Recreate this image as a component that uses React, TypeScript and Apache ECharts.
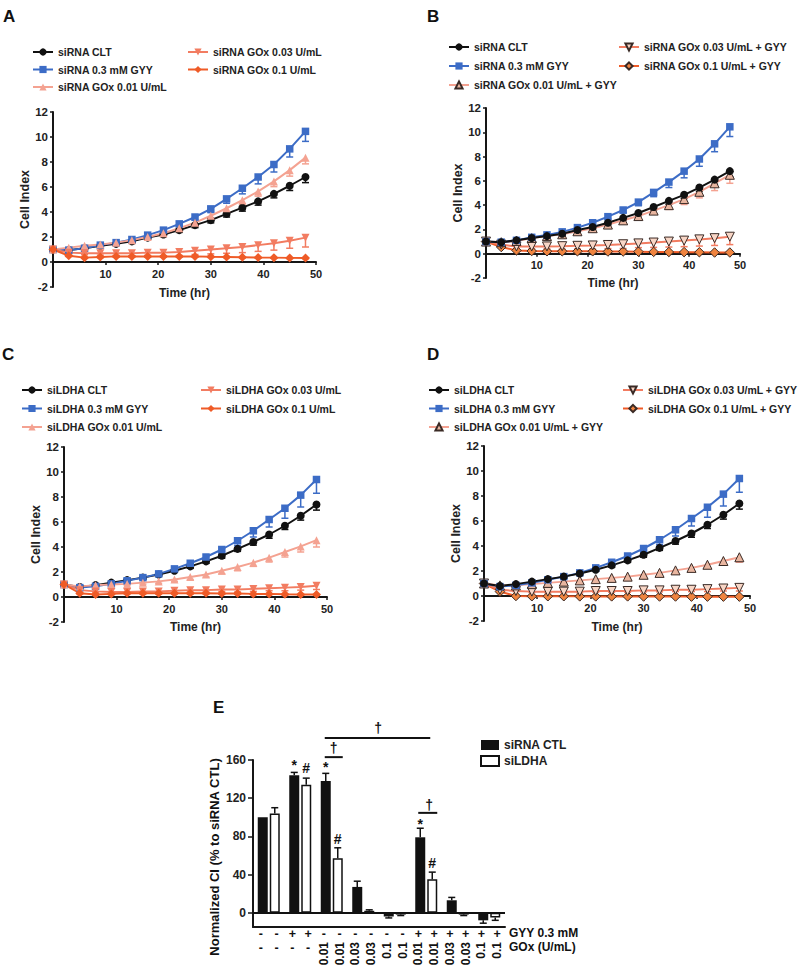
import React, { useEffect, useRef } from 'react';
import * as echarts from 'echarts';

const FONT = "'Liberation Sans', Arial, Helvetica, sans-serif";
const INK = '#161616';

// ---------- time axis (hr) ----------
const TIME = [0, 3, 6, 9, 12, 15, 18, 21, 24, 27, 30, 33, 36, 39, 42, 45, 48];

// ---------- Panel A / B : siRNA ----------
const A_CLT = [1.0, 0.95, 1.1, 1.3, 1.45, 1.65, 1.95, 2.2, 2.55, 2.95, 3.35, 3.85, 4.35, 4.85, 5.45, 6.1, 6.8];
const A_CLT_ERR = [0.05, 0.05, 0.06, 0.08, 0.1, 0.1, 0.12, 0.15, 0.18, 0.2, 0.22, 0.25, 0.28, 0.3, 0.32, 0.38, 0.45];
const A_GYY = [1.0, 0.95, 1.1, 1.35, 1.55, 1.8, 2.15, 2.55, 3.05, 3.6, 4.25, 5.05, 5.9, 6.8, 7.8, 9.05, 10.45];
const A_GYY_ERR = [0.05, 0.05, 0.06, 0.08, 0.1, 0.12, 0.15, 0.18, 0.2, 0.25, 0.3, 0.35, 0.45, 0.55, 0.6, 0.65, 0.8];
const A_G001 = [1.0, 1.15, 1.3, 1.4, 1.55, 1.75, 2.0, 2.3, 2.7, 3.15, 3.7, 4.3, 4.95, 5.65, 6.45, 7.35, 8.35];
const A_G001_ERR = [0.05, 0.05, 0.08, 0.1, 0.1, 0.1, 0.12, 0.15, 0.18, 0.2, 0.22, 0.28, 0.32, 0.38, 0.42, 0.48, 0.5];
const A_G003 = [1.0, 0.75, 0.7, 0.7, 0.7, 0.7, 0.75, 0.75, 0.8, 0.9, 1.0, 1.1, 1.2, 1.35, 1.5, 1.7, 1.95];
const A_G003_ERR = [0.05, 0.1, 0.12, 0.15, 0.18, 0.2, 0.22, 0.25, 0.28, 0.3, 0.35, 0.4, 0.45, 0.5, 0.55, 0.6, 0.75];
const A_G01 = [1.0, 0.5, 0.35, 0.4, 0.45, 0.45, 0.45, 0.45, 0.45, 0.45, 0.42, 0.4, 0.38, 0.36, 0.35, 0.33, 0.32];
const A_G01_ERR = [0.05, 0.05, 0.05, 0.05, 0.05, 0.05, 0.05, 0.05, 0.05, 0.05, 0.05, 0.05, 0.05, 0.05, 0.05, 0.05, 0.05];

const B_G001GYY = [1.0, 0.95, 1.05, 1.3, 1.45, 1.6, 1.85, 2.1, 2.4, 2.75, 3.1, 3.55, 4.0, 4.5, 5.1, 5.8, 6.5];
const B_G001GYY_ERR = [0.05, 0.05, 0.06, 0.08, 0.1, 0.1, 0.12, 0.15, 0.2, 0.22, 0.25, 0.3, 0.35, 0.45, 0.5, 0.6, 0.7];
const B_G003GYY = [1.0, 0.75, 0.6, 0.6, 0.6, 0.62, 0.65, 0.68, 0.72, 0.78, 0.85, 0.92, 1.0, 1.08, 1.18, 1.28, 1.4];
const B_G003GYY_ERR = [0.05, 0.1, 0.15, 0.2, 0.2, 0.25, 0.25, 0.3, 0.3, 0.35, 0.35, 0.4, 0.45, 0.5, 0.55, 0.6, 0.65];
const B_G01GYY = [1.0, 0.55, 0.27, 0.22, 0.2, 0.2, 0.2, 0.2, 0.18, 0.18, 0.17, 0.15, 0.14, 0.13, 0.12, 0.1, 0.1];
const B_G01GYY_ERR = [0.05, 0.05, 0.05, 0.05, 0.05, 0.05, 0.05, 0.05, 0.05, 0.05, 0.05, 0.05, 0.05, 0.05, 0.05, 0.05, 0.05];

// ---------- Panel C / D : siLDHA ----------
const C_CLT = [1.0, 0.8, 0.95, 1.15, 1.35, 1.55, 1.8, 2.1, 2.45, 2.85, 3.3, 3.85, 4.4, 5.0, 5.7, 6.5, 7.4];
const C_CLT_ERR = [0.05, 0.05, 0.06, 0.08, 0.1, 0.1, 0.1, 0.12, 0.15, 0.15, 0.2, 0.2, 0.25, 0.3, 0.3, 0.35, 0.45];
const C_GYY = [1.0, 0.75, 0.85, 1.05, 1.3, 1.55, 1.85, 2.25, 2.7, 3.2, 3.8, 4.5, 5.3, 6.2, 7.1, 8.15, 9.4];
const C_GYY_ERR = [0.05, 0.05, 0.1, 0.1, 0.1, 0.12, 0.15, 0.2, 0.25, 0.3, 0.35, 0.4, 0.5, 0.6, 0.8, 0.95, 1.1];
const C_G001 = [1.0, 0.85, 0.95, 1.0, 1.05, 1.15, 1.25, 1.4, 1.6, 1.8, 2.1, 2.4, 2.75, 3.15, 3.6, 4.05, 4.55];
const C_G001_ERR = [0.05, 0.05, 0.1, 0.1, 0.1, 0.12, 0.15, 0.15, 0.2, 0.2, 0.25, 0.3, 0.3, 0.35, 0.4, 0.45, 0.55];
const C_G003 = [1.0, 0.55, 0.45, 0.4, 0.4, 0.45, 0.45, 0.5, 0.55, 0.55, 0.6, 0.6, 0.65, 0.7, 0.75, 0.8, 0.9];
const C_G003_ERR = [0.05, 0.05, 0.1, 0.1, 0.1, 0.1, 0.1, 0.15, 0.15, 0.15, 0.15, 0.2, 0.2, 0.2, 0.25, 0.25, 0.3];
const C_G01 = [1.0, 0.3, 0.2, 0.25, 0.3, 0.3, 0.3, 0.3, 0.3, 0.3, 0.28, 0.28, 0.25, 0.25, 0.22, 0.2, 0.2];
const C_G01_ERR = [0.05, 0.05, 0.05, 0.05, 0.05, 0.05, 0.05, 0.05, 0.05, 0.05, 0.05, 0.05, 0.05, 0.05, 0.05, 0.05, 0.05];

const D_G001GYY = [1.0, 0.85, 0.85, 0.95, 1.05, 1.15, 1.25, 1.35, 1.45, 1.55, 1.7, 1.85, 2.05, 2.25, 2.5, 2.8, 3.1];
const D_G001GYY_ERR = [0.05, 0.05, 0.05, 0.08, 0.1, 0.1, 0.1, 0.1, 0.12, 0.12, 0.15, 0.15, 0.2, 0.2, 0.25, 0.3, 0.4];
const D_G003GYY = [1.0, 0.5, 0.4, 0.35, 0.35, 0.35, 0.35, 0.4, 0.4, 0.4, 0.45, 0.45, 0.5, 0.5, 0.55, 0.6, 0.65];
const D_G003GYY_ERR = [0.05, 0.05, 0.05, 0.08, 0.1, 0.1, 0.1, 0.1, 0.1, 0.1, 0.12, 0.12, 0.15, 0.15, 0.2, 0.2, 0.25];
const D_G01GYY = [1.0, 0.35, 0.0, -0.02, -0.02, -0.02, -0.03, -0.03, -0.03, -0.03, -0.04, -0.04, -0.04, -0.05, -0.05, -0.05, -0.05];
const D_G01GYY_ERR = [0.05, 0.05, 0.05, 0.05, 0.05, 0.05, 0.05, 0.05, 0.05, 0.05, 0.05, 0.05, 0.05, 0.05, 0.05, 0.05, 0.05];

// ---------- Panel E : normalized CI ----------
const E_CATS = ['CTL', 'GYY', 'GOx 0.01', 'GOx 0.03', 'GOx 0.1', 'GYY+GOx 0.01', 'GYY+GOx 0.03', 'GYY+GOx 0.1'];
const E_SIRNA = [100, 144, 138, 27, -4, 79, 13, -8];
const E_SIRNA_ERR = [0, 3, 8, 6, 1.5, 9.5, 3, 3];
const E_SILDHA = [104, 134, 57, 2, -2, 35, -2, -5];
const E_SILDHA_ERR = [6, 7, 11, 1, 1, 7.5, 1, 3];
const E_YTICKS = [0, 40, 80, 120, 160];
const E_ROW_GYY = ['-', '-', '+', '+', '-', '-', '-', '-', '-', '-', '+', '+', '+', '+', '+', '+'];
const E_ROW_GOX_DASH = ['-', '-', '-', '-', '', '', '', '', '', '', '', '', '', '', '', ''];
const E_ROW_GOX_NUM = ['', '', '', '', '0.01', '0.01', '0.03', '0.03', '0.1', '0.1', '0.01', '0.01', '0.03', '0.03', '0.1', '0.1'];
// significance marks: category, value, pixel shift from category centre, text
const E_SIG_CAT = [1, 1, 2, 2, 5, 5, 2, 5, 3];
const E_SIG_VAL = [155, 152, 153, 77, 93, 52, 172.6, 113, 193.5];
const E_SIG_DX = [-6, 6, -6, 6, -6, 6, 2, 3, 15];
const E_SIG_TXT = ['*', '#', '*', '#', '*', '#', '\u2020', '\u2020', '\u2020'];
// brackets: [fromCat, value, toCat, dxFrom, dxTo]
const E_BRACKETS = [
  [2, 163, 2, -7, 11],
  [5, 104.6, 5, -8, 11],
  [2, 183, 5, -7, 4],
];

// ---------- styles ----------
const BLACK = '#111111';
const BLUE = '#3c6cc6';
const PINK = '#f4a291';
const SALMON = '#f27c61';
const ORANGE = '#ef5b27';
const DARK = '#3a2a25';

type St = { fill: string; line: string; symbol: string; size: number; rotate?: number; border?: string };
const ST_CLT: St = { fill: BLACK, line: BLACK, symbol: 'circle', size: 8 };
const ST_GYY: St = { fill: BLUE, line: BLUE, symbol: 'rect', size: 7.5 };
const ST_G001: St = { fill: PINK, line: PINK, symbol: 'triangle', size: 8 };
const ST_G003: St = { fill: SALMON, line: SALMON, symbol: 'triangle', size: 8, rotate: 180 };
const ST_G01: St = { fill: ORANGE, line: ORANGE, symbol: 'diamond', size: 9 };
const ST_G001Y: St = { fill: '#e9b6a0', line: PINK, symbol: 'triangle', size: 9, border: DARK };
const ST_G003Y: St = { fill: '#f8d6c6', line: SALMON, symbol: 'triangle', size: 9, rotate: 180, border: DARK };
const ST_G01Y: St = { fill: '#f0843f', line: ORANGE, symbol: 'diamond', size: 9.5, border: DARK };

const renderErr = (color: string) => (params: any, api: any) => {
  const x = api.value(0);
  const v = api.value(1);
  const e = api.value(2);
  if (!e) return null;
  const p1 = api.coord([x, v]);
  const p2 = api.coord([x, v - e]);
  return {
    type: 'group',
    children: [
      { type: 'line', shape: { x1: p1[0], y1: p1[1], x2: p2[0], y2: p2[1] }, style: { stroke: color, lineWidth: 1.5 } },
      { type: 'line', shape: { x1: p2[0] - 3.5, y1: p2[1], x2: p2[0] + 3.5, y2: p2[1] }, style: { stroke: color, lineWidth: 1.5 } },
    ],
  };
};

const lineSeries = (gi: number, name: string, vals: number[], err: number[], st: St) => [
  {
    type: 'custom',
    name: name + ' (err)',
    xAxisIndex: gi,
    yAxisIndex: gi,
    data: TIME.map((t, i) => [t, vals[i], err[i]]),
    encode: { x: 0, y: 1 },
    renderItem: renderErr(st.line),
    silent: true,
    z: 2,
  },
  {
    type: 'line',
    name,
    xAxisIndex: gi,
    yAxisIndex: gi,
    data: TIME.map((t, i) => [t, vals[i]]),
    symbol: st.symbol,
    symbolSize: st.size,
    symbolRotate: st.rotate || 0,
    showAllSymbol: true,
    itemStyle: { color: st.fill, borderColor: st.border || st.fill, borderWidth: st.border ? 1 : 0, opacity: 1 },
    lineStyle: { color: st.line, width: 2 },
    emphasis: { disabled: true },
    silent: true,
    z: 3,
  },
];

const axisTxt = { color: '#222', fontFamily: FONT, fontWeight: 'bold' as const };

// offset: distance (px) from the grid bottom (-2) up to the zero line
const lineXAxis = (gi: number, nameGap: number, offset: number) => ({
  type: 'value',
  gridIndex: gi,
  min: 0,
  max: 50,
  interval: 10,
  offset: -offset,
  axisLine: { show: true, onZero: false, lineStyle: { color: INK, width: 2 } },
  axisTick: { show: true, length: 3, lineStyle: { color: INK, width: 1.5 } },
  axisLabel: { ...axisTxt, fontSize: 11, margin: 6, formatter: (v: number) => (v === 0 ? '' : String(v)) },
  splitLine: { show: false },
  name: 'Time (hr)',
  nameLocation: 'middle',
  nameGap,
  nameTextStyle: { ...axisTxt, fontSize: 12 },
});

const lineYAxis = (gi: number, nameGap: number) => ({
  type: 'value',
  gridIndex: gi,
  min: -2,
  max: 12,
  interval: 2,
  axisLine: { show: true, onZero: false, lineStyle: { color: INK, width: 2 } },
  axisTick: { show: true, length: 3, lineStyle: { color: INK, width: 1.5 } },
  axisLabel: { ...axisTxt, fontSize: 11.5, margin: 5 },
  splitLine: { show: false },
  name: 'Cell Index',
  nameLocation: 'middle',
  nameGap,
  nameTextStyle: { ...axisTxt, fontSize: 12.5 },
});

const legendBox = (left: number, top: number, gap: number, names: string[]) => ({
  left,
  top,
  padding: 0,
  orient: 'vertical',
  itemWidth: 20,
  itemHeight: 9,
  itemGap: gap,
  selectedMode: false,
  data: names,
  textStyle: { color: '#222', fontFamily: FONT, fontWeight: 'bold', fontSize: 10.5, lineHeight: 12 },
});

const renderBarErr = (dx: number) => (params: any, api: any) => {
  const c = api.value(0);
  const v = api.value(1);
  const e = api.value(2);
  if (!e) return null;
  const dir = v >= 0 ? 1 : -1;
  const p1 = api.coord([c, v]);
  const p2 = api.coord([c, v + dir * e]);
  const x = p1[0] + dx;
  return {
    type: 'group',
    children: [
      { type: 'line', shape: { x1: x, y1: p1[1], x2: x, y2: p2[1] }, style: { stroke: BLACK, lineWidth: 1.5 } },
      { type: 'line', shape: { x1: x - 3.5, y1: p2[1], x2: x + 3.5, y2: p2[1] }, style: { stroke: BLACK, lineWidth: 1.5 } },
    ],
  };
};

function buildOption(): any {
  const sA = [
    ...lineSeries(0, 'siRNA CLT', A_CLT, A_CLT_ERR, ST_CLT),
    ...lineSeries(0, 'siRNA 0.3 mM GYY', A_GYY, A_GYY_ERR, ST_GYY),
    ...lineSeries(0, 'siRNA GOx 0.01 U/mL', A_G001, A_G001_ERR, ST_G001),
    ...lineSeries(0, 'siRNA GOx 0.03 U/mL', A_G003, A_G003_ERR, ST_G003),
    ...lineSeries(0, 'siRNA GOx 0.1 U/mL', A_G01, A_G01_ERR, ST_G01),
  ];
  const sB = [
    ...lineSeries(1, 'siRNA GOx 0.1 U/mL + GYY', B_G01GYY, B_G01GYY_ERR, ST_G01Y),
    ...lineSeries(1, 'siRNA GOx 0.03 U/mL + GYY', B_G003GYY, B_G003GYY_ERR, ST_G003Y),
    ...lineSeries(1, 'siRNA GOx 0.01 U/mL + GYY', B_G001GYY, B_G001GYY_ERR, ST_G001Y),
    ...lineSeries(1, 'siRNA 0.3 mM GYY', A_GYY, A_GYY_ERR, ST_GYY),
    ...lineSeries(1, 'siRNA CLT', A_CLT, A_CLT_ERR, ST_CLT),
  ];
  const sC = [
    ...lineSeries(2, 'siLDHA CLT', C_CLT, C_CLT_ERR, ST_CLT),
    ...lineSeries(2, 'siLDHA 0.3 mM GYY', C_GYY, C_GYY_ERR, ST_GYY),
    ...lineSeries(2, 'siLDHA GOx 0.01 U/mL', C_G001, C_G001_ERR, ST_G001),
    ...lineSeries(2, 'siLDHA GOx 0.03 U/mL', C_G003, C_G003_ERR, ST_G003),
    ...lineSeries(2, 'siLDHA GOx 0.1 U/mL', C_G01, C_G01_ERR, ST_G01),
  ];
  const sD = [
    ...lineSeries(3, 'siLDHA GOx 0.1 U/mL + GYY', D_G01GYY, D_G01GYY_ERR, ST_G01Y),
    ...lineSeries(3, 'siLDHA GOx 0.03 U/mL + GYY', D_G003GYY, D_G003GYY_ERR, ST_G003Y),
    ...lineSeries(3, 'siLDHA GOx 0.01 U/mL + GYY', D_G001GYY, D_G001GYY_ERR, ST_G001Y),
    ...lineSeries(3, 'siLDHA 0.3 mM GYY', C_GYY, C_GYY_ERR, ST_GYY),
    ...lineSeries(3, 'siLDHA CLT', C_CLT, C_CLT_ERR, ST_CLT),
  ];

  const sE = [
    {
      type: 'bar',
      name: 'siRNA CTL',
      xAxisIndex: 4,
      yAxisIndex: 4,
      data: E_SIRNA,
      barWidth: 10,
      barGap: '20%',
      itemStyle: { color: BLACK },
      silent: true,
      markLine: {
        silent: true,
        symbol: ['none', 'none'],
        label: { show: false },
        lineStyle: { color: BLACK, width: 2, type: 'solid' },
        data: [{ yAxis: 0 }],
      },
      z: 2,
    },
    {
      type: 'bar',
      name: 'siLDHA',
      xAxisIndex: 4,
      yAxisIndex: 4,
      data: E_SILDHA,
      barWidth: 10,
      barGap: '20%',
      itemStyle: { color: '#ffffff', borderColor: BLACK, borderWidth: 1.5 },
      silent: true,
      z: 2,
    },
    {
      type: 'custom',
      name: 'siRNA CTL (err)',
      xAxisIndex: 4,
      yAxisIndex: 4,
      data: E_SIRNA.map((v, i) => [i, v, E_SIRNA_ERR[i]]),
      encode: { x: 0, y: 1 },
      renderItem: renderBarErr(-6),
      silent: true,
      z: 3,
    },
    {
      type: 'custom',
      name: 'siLDHA (err)',
      xAxisIndex: 4,
      yAxisIndex: 4,
      data: E_SILDHA.map((v, i) => [i, v, E_SILDHA_ERR[i]]),
      encode: { x: 0, y: 1 },
      renderItem: renderBarErr(6),
      silent: true,
      z: 3,
    },
    {
      type: 'custom',
      name: 'brackets',
      xAxisIndex: 4,
      yAxisIndex: 4,
      data: E_BRACKETS,
      encode: { x: 0, y: 1 },
      clip: false,
      silent: true,
      renderItem: (params: any, api: any) => {
        const p1 = api.coord([api.value(0), api.value(1)]);
        const p2 = api.coord([api.value(2), api.value(1)]);
        return {
          type: 'line',
          shape: { x1: p1[0] + api.value(3), y1: p1[1], x2: p2[0] + api.value(4), y2: p2[1] },
          style: { stroke: BLACK, lineWidth: 2 },
        };
      },
      z: 3,
    },
    {
      type: 'custom',
      name: 'significance',
      xAxisIndex: 4,
      yAxisIndex: 4,
      data: E_SIG_CAT.map((c, i) => [c, E_SIG_VAL[i], E_SIG_DX[i]]),
      encode: { x: 0, y: 1 },
      clip: false,
      silent: true,
      renderItem: (params: any, api: any) => {
        const p = api.coord([api.value(0), api.value(1)]);
        return {
          type: 'text',
          x: p[0] + api.value(2),
          y: p[1],
          style: {
            text: E_SIG_TXT[params.dataIndex],
            font: `bold 14px ${FONT}`,
            fill: BLACK,
            stroke: 'none',
            align: 'center',
            verticalAlign: 'middle',
            textAlign: 'center',
            textVerticalAlign: 'middle',
          },
        };
      },
      z: 3,
    },
  ];

  const idx16 = E_ROW_GYY.map((_, i) => String(i));
  const extraAxis = (offset: number, labels: string[], rotate: number, margin: number, fontSize: number) => ({
    type: 'category',
    gridIndex: 4,
    position: 'bottom',
    offset,
    data: idx16,
    axisLine: { show: false, onZero: false },
    axisTick: { show: false },
    splitLine: { show: false },
    axisLabel: {
      ...axisTxt,
      color: BLACK,
      fontSize,
      interval: 0,
      rotate,
      margin,
      formatter: (v: string, i: number) => labels[i],
    },
  });

  const txt = (text: string, x: number, y: number, size: number, extra: any = {}) => ({
    type: 'text',
    x,
    y,
    silent: true,
    ...extra,
    style: {
      text,
      font: `bold ${size}px ${FONT}`,
      fill: BLACK,
      align: extra.align || 'left',
      verticalAlign: 'middle',
      textAlign: extra.align || 'left',
      textVerticalAlign: 'middle',
    },
  });

  return {
    animation: false,
    backgroundColor: '#ffffff',
    textStyle: { fontFamily: FONT },
    grid: [
      { left: 53, top: 112, width: 263, height: 175, outerBoundsMode: 'none' },
      { left: 486, top: 108, width: 254, height: 170, outerBoundsMode: 'none' },
      { left: 64, top: 447, width: 263, height: 175, outerBoundsMode: 'none' },
      { left: 484, top: 446, width: 266, height: 175, outerBoundsMode: 'none' },
      { left: 253, top: 760, width: 252, height: 167, outerBoundsMode: 'none' },
    ],
    xAxis: [
      lineXAxis(0, 25, 175 / 7),
      lineXAxis(1, 23, 170 / 7),
      lineXAxis(2, 24, 175 / 7),
      lineXAxis(3, 25, 175 / 7),
      {
        type: 'category',
        gridIndex: 4,
        data: E_CATS,
        axisLine: { show: true, onZero: false, lineStyle: { color: INK, width: 2 } },
        axisTick: { show: false },
        axisLabel: { show: false },
        splitLine: { show: false },
      },
      extraAxis(0, E_ROW_GYY, 0, 0, 12.5),
      extraAxis(14, E_ROW_GOX_DASH, 0, 0, 12.5),
      extraAxis(14, E_ROW_GOX_NUM, 90, 1, 12),
    ],
    yAxis: [
      lineYAxis(0, 20),
      lineYAxis(1, 18),
      lineYAxis(2, 20),
      lineYAxis(3, 20),
      {
        type: 'value',
        gridIndex: 4,
        min: -15,
        max: 160,
        axisLine: { show: true, onZero: false, lineStyle: { color: INK, width: 2 } },
        axisTick: { show: true, length: 5, customValues: E_YTICKS, lineStyle: { color: INK, width: 1.5 } },
        axisLabel: { ...axisTxt, fontSize: 12, margin: 7, customValues: E_YTICKS },
        splitLine: { show: false },
      },
    ],
    legend: [
      legendBox(32, 46, 5.5, ['siRNA CLT', 'siRNA 0.3 mM GYY', 'siRNA GOx 0.01 U/mL']),
      legendBox(187, 46, 5.5, ['siRNA GOx 0.03 U/mL', 'siRNA GOx 0.1 U/mL']),
      legendBox(448, 41, 7, ['siRNA CLT', 'siRNA 0.3 mM GYY', 'siRNA GOx 0.01 U/mL + GYY']),
      legendBox(618, 41, 7, ['siRNA GOx 0.03 U/mL + GYY', 'siRNA GOx 0.1 U/mL + GYY']),
      legendBox(21, 384, 6.5, ['siLDHA CLT', 'siLDHA 0.3 mM GYY', 'siLDHA GOx 0.01 U/mL']),
      legendBox(200, 384, 6.5, ['siLDHA GOx 0.03 U/mL', 'siLDHA GOx 0.1 U/mL']),
      legendBox(428, 384, 6.5, ['siLDHA CLT', 'siLDHA 0.3 mM GYY', 'siLDHA GOx 0.01 U/mL + GYY']),
      legendBox(622, 384, 6.5, ['siLDHA GOx 0.03 U/mL + GYY', 'siLDHA GOx 0.1 U/mL + GYY']),
      {
        left: 480,
        top: 739,
        padding: 0,
        orient: 'vertical',
        icon: 'rect',
        itemWidth: 18,
        itemHeight: 10,
        itemGap: 4,
        selectedMode: false,
        data: ['siRNA CTL', 'siLDHA'],
        textStyle: { color: '#222', fontFamily: FONT, fontWeight: 'bold', fontSize: 12, lineHeight: 12 },
      },
    ],
    graphic: [
      txt('A', 3, 16, 17),
      txt('B', 427, 16, 17),
      txt('C', 2, 354, 17),
      txt('D', 427, 354, 17),
      txt('E', 213, 707, 17),
      txt('Normalized CI (% to siRNA CTL)', 214, 857, 13, { rotation: Math.PI / 2, align: 'center' }),
      txt('GYY 0.3 mM', 509, 933, 12),
      txt('GOx (U/mL)', 509, 947, 12),
    ],
    series: [...sA, ...sB, ...sC, ...sD, ...sE],
  };
}

export default function App() {
  const ref = useRef<HTMLDivElement>(null);
  useEffect(() => {
    if (!ref.current) return;
    const chart = echarts.init(ref.current, null, { renderer: 'svg' });
    chart.setOption(buildOption());
    return () => chart.dispose();
  }, []);
  return (
    <div
      ref={ref}
      style={{ position: 'absolute', left: 0, top: 0, width: 800, height: 968, background: '#fff' }}
    />
  );
}
